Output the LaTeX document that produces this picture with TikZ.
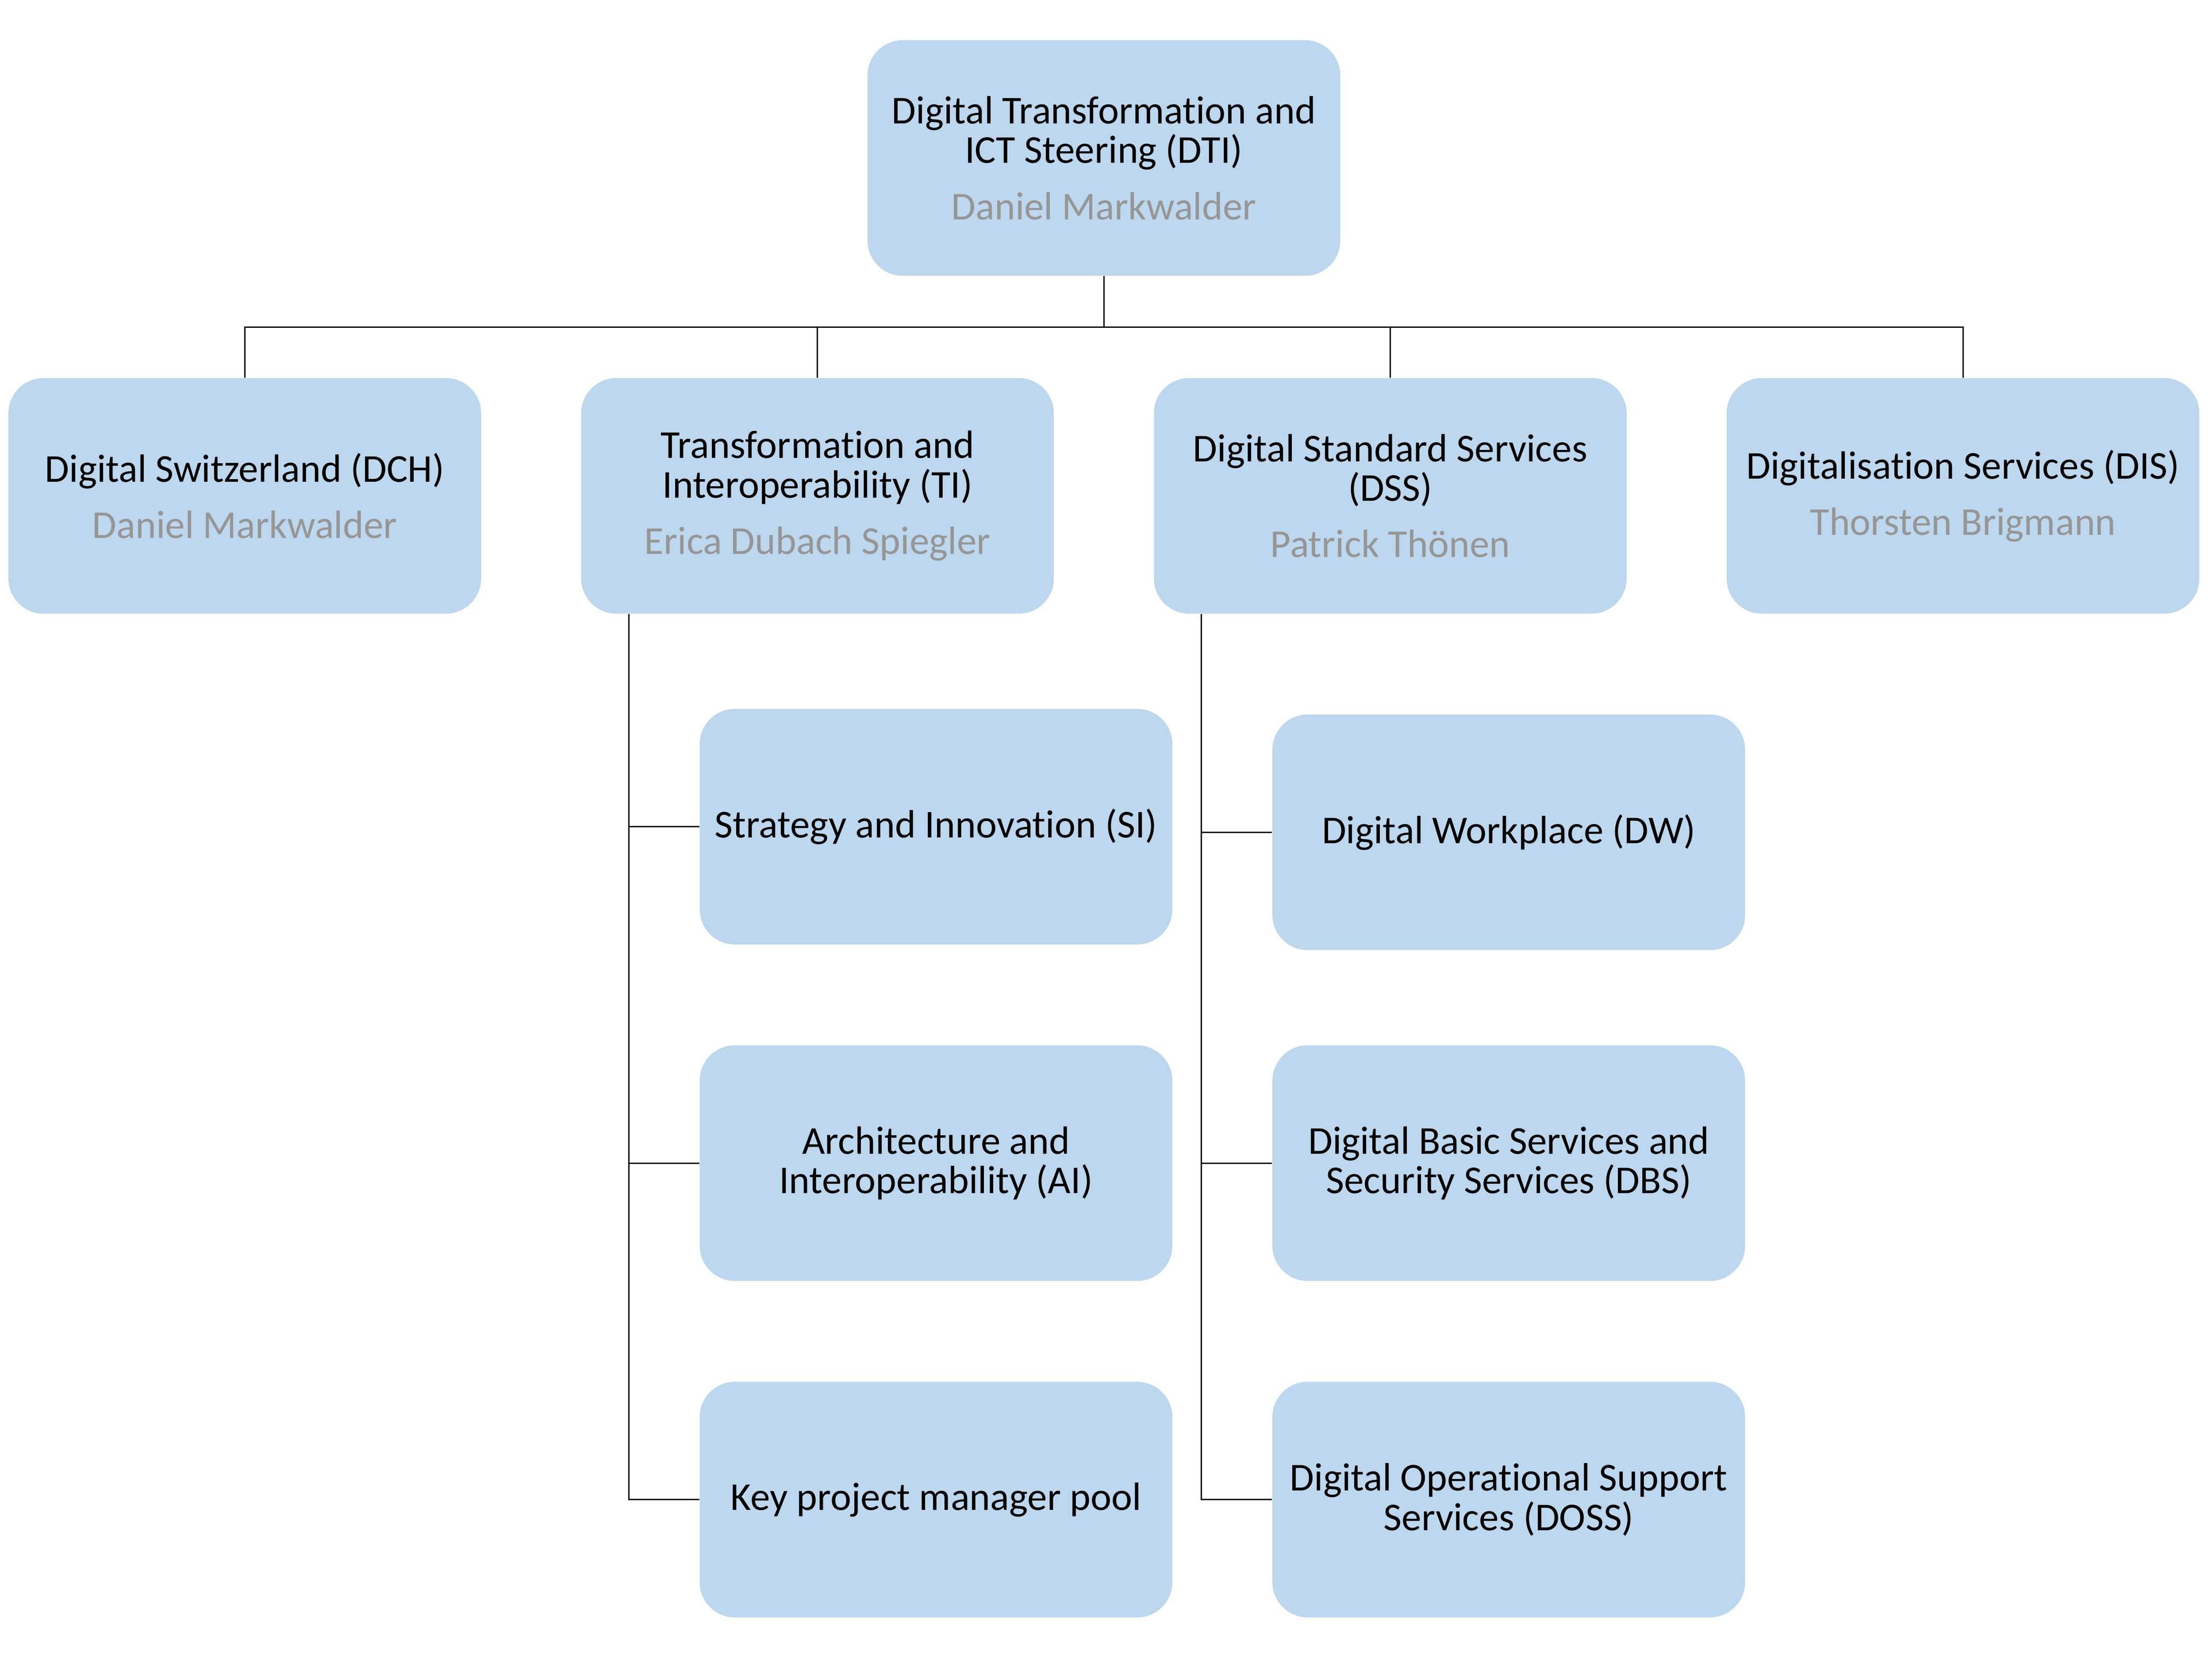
\documentclass[tikz,border=0pt]{standalone}
\usepackage{fontspec}
\setmainfont{Carlito}[Ligatures=NoCommon]
\usetikzlibrary{positioning}
\definecolor{unitblue}{RGB}{189,215,238}
\definecolor{namegray}{RGB}{150,150,150}
\tikzset{
  unit/.style={fill=unitblue, rounded corners=0.625cm, minimum width=8.375cm, minimum height=4.175cm,
    align=center, inner sep=2pt, font=\fontsize{19.9}{19.9}\selectfont},
  link/.style={draw=black, line width=0.7pt}
}
\newcommand{\unithead}[1]{\\[0.3cm]{\color{namegray}#1}}

\begin{document}
\begin{tikzpicture}[x=0.025cm, y=-0.025cm]
  \useasboundingbox (0,0) rectangle (1568,1176);

  % Directorate
  \node[unit] (dti) at (782.5,112) {Digital Transformation and\\ICT Steering (DTI)\unithead{Daniel Markwalder}};

  % Divisions
  \node[unit] (dch) at (173.5,351.5) {Digital Switzerland (DCH)\unithead{Daniel Markwalder}};
  \node[unit] (ti) at (579.5,351.5) {Transformation and\\Interoperability (TI)\unithead{Erica Dubach Spiegler}};
  \node[unit] (dss) at (985.5,351.5) {Digital Standard Services\\(DSS)\unithead{Patrick Thönen}};
  \node[unit] (dis) at (1391.5,351.5) {Digitalisation Services (DIS)\unithead{Thorsten Brigmann}};

  % Sections of TI
  \node[unit] (si) at (663.5,586) {Strategy and Innovation (SI)};
  \node[unit] (ai) at (663.5,824.5) {Architecture and\\Interoperability (AI)};
  \node[unit] (kpm) at (663.5,1063) {Key project manager pool};

  % Sections of DSS
  \node[unit] (dw) at (1069.5,590) {Digital Workplace (DW)};
  \node[unit] (dbs) at (1069.5,824.5) {Digital Basic Services and\\Security Services (DBS)};
  \node[unit] (doss) at (1069.5,1063) {Digital Operational Support\\Services (DOSS)};

  % Bus below the directorate
  \coordinate (bus) at (782.5,232);
  \draw[link] (dti) -- (bus);
  \draw[link] (bus) -| (dch.north);
  \draw[link] (bus) -| (ti.north);
  \draw[link] (bus) -| (dss.north);
  \draw[link] (bus) -| (dis.north);

  % TI branch
  \draw[link] ([xshift=0.85cm]ti.south west) |- (si.west);
  \draw[link] ([xshift=0.85cm]ti.south west) |- (ai.west);
  \draw[link] ([xshift=0.85cm]ti.south west) |- (kpm.west);

  % DSS branch
  \draw[link] ([xshift=0.85cm]dss.south west) |- (dw.west);
  \draw[link] ([xshift=0.85cm]dss.south west) |- (dbs.west);
  \draw[link] ([xshift=0.85cm]dss.south west) |- (doss.west);
\end{tikzpicture}
\end{document}
